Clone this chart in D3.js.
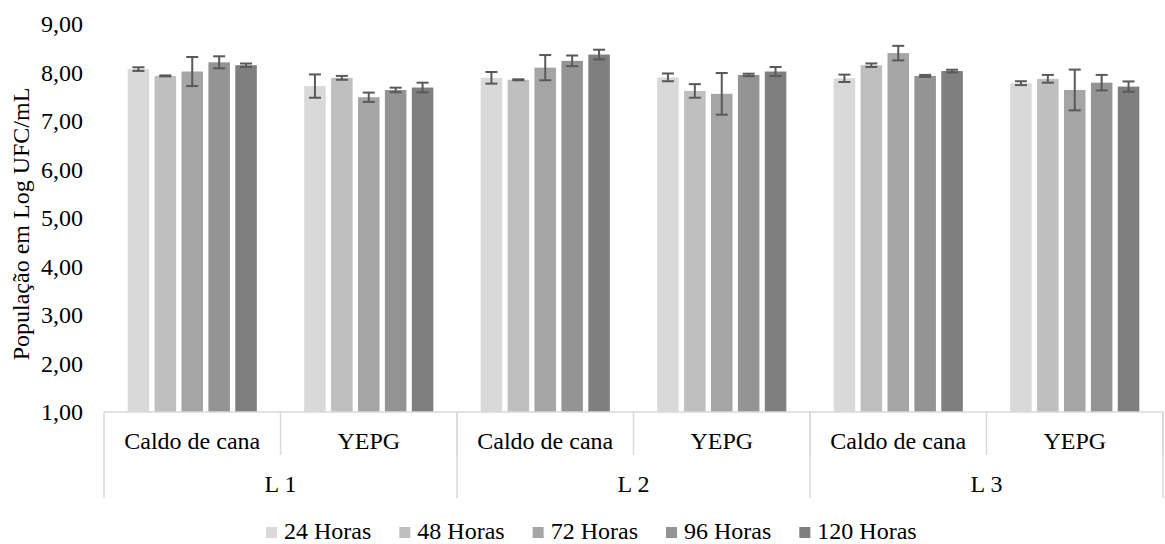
<!DOCTYPE html>
<html>
<head>
<meta charset="utf-8">
<script src="https://cdn.jsdelivr.net/npm/d3@7"></script>
<style>
  html, body { margin: 0; padding: 0; background: #fff; }
  svg { display: block; }
  text { font-family: "Liberation Serif", "Times New Roman", serif; fill: #000; }
</style>
</head>
<body>
<svg id="chart" width="1165" height="544"></svg>
<script>
// ---- data ----
const lineages = ["L 1", "L 2", "L 3"];
const media = ["Caldo de cana", "YEPG"];
const hours = ["24 Horas", "48 Horas", "72 Horas", "96 Horas", "120 Horas"];
const yTicks = [1, 2, 3, 4, 5, 6, 7, 8, 9];
// order of groups: L1 Caldo, L1 YEPG, L2 Caldo, L2 YEPG, L3 Caldo, L3 YEPG
const h24  = [8.07, 7.72, 7.89, 7.90, 7.88, 7.78];
const h48  = [7.93, 7.89, 7.85, 7.62, 8.15, 7.87];
const h72  = [8.02, 7.49, 8.10, 7.56, 8.40, 7.64];
const h96  = [8.21, 7.64, 8.24, 7.95, 7.93, 7.79];
const h120 = [8.15, 7.69, 8.37, 8.02, 8.03, 7.71];
const e24  = [0.037, 0.24, 0.12, 0.08, 0.076, 0.04];
const e48  = [0.01, 0.04, 0.01, 0.14, 0.037, 0.08];
const e72  = [0.30, 0.096, 0.26, 0.43, 0.15, 0.42];
const e96  = [0.124, 0.047, 0.11, 0.025, 0.02, 0.16];
const e120 = [0.035, 0.10, 0.10, 0.093, 0.027, 0.106];
const colors = ["#d9d9d9", "#bfbfbf", "#a5a5a5", "#949494", "#7f7f7f"];

const seriesVals = [h24, h48, h72, h96, h120];
const seriesErr = [e24, e48, e72, e96, e120];

const groups = [];
lineages.forEach(l => media.forEach(m => groups.push({ key: l + "|" + m, lin: l, med: m })));

const svg = d3.select("#chart");
const mLeft = 104, mRight = 1163, mTop = 24, mBottom = 412;
const fontSize = 24;
const serif = "'Liberation Serif', 'Times New Roman', serif";

const y = d3.scaleLinear().domain([1, 9]).range([mBottom, mTop]);
const x0 = d3.scaleBand().domain(groups.map(g => g.key)).range([mLeft, mRight]).padding(0);
const xL = d3.scaleBand().domain(lineages).range([mLeft, mRight]).padding(0);
const x1 = d3.scaleBand().domain(hours).range([0, x0.bandwidth()]).paddingInner(0.2).paddingOuter(0.88);
const color = d3.scaleOrdinal().domain(hours).range(colors);

// y axis (labels only)
const yAxis = d3.axisLeft(y).tickValues(yTicks).tickSize(0).tickPadding(0)
  .tickFormat(d => d3.format(".2f")(d).replace(".", ","));
const gy = svg.append("g").attr("transform", `translate(${mLeft - 21},0)`).call(yAxis);
gy.select(".domain").remove();
gy.attr("font-family", null);
gy.selectAll("text").style("font-size", fontSize + "px").style("font-family", serif).attr("fill", "#000");

// bars
const barData = [];
groups.forEach((g, gi) => hours.forEach((h, hi) => {
  barData.push({ g: g.key, h, v: seriesVals[hi][gi], e: seriesErr[hi][gi] });
}));
svg.append("g").selectAll("rect").data(barData).join("rect")
  .attr("x", d => x0(d.g) + x1(d.h))
  .attr("y", d => y(d.v))
  .attr("width", x1.bandwidth())
  .attr("height", d => y(1) - y(d.v))
  .attr("fill", d => color(d.h));

// error bars
const eg = svg.append("g").attr("stroke", "#595959").attr("stroke-width", 2).attr("fill", "none");
barData.forEach(d => {
  const cx = x0(d.g) + x1(d.h) + x1.bandwidth() / 2;
  const y1 = y(d.v + d.e), y2 = y(d.v - d.e);
  eg.append("line").attr("x1", cx).attr("x2", cx).attr("y1", y1).attr("y2", y2);
  eg.append("line").attr("x1", cx - 6).attr("x2", cx + 6).attr("y1", y1).attr("y2", y1);
  eg.append("line").attr("x1", cx - 6).attr("x2", cx + 6).attr("y1", y2).attr("y2", y2);
});

// category axis
const axisColor = "#d9d9d9";
const ag = svg.append("g");
ag.append("line").attr("x1", mLeft).attr("x2", mRight).attr("y1", mBottom).attr("y2", mBottom)
  .attr("stroke", axisColor).attr("stroke-width", 1.5);
groups.forEach(g => {
  const xx = x0(g.key) + x0.bandwidth();
  ag.append("line").attr("x1", xx).attr("x2", xx).attr("y1", mBottom).attr("y2", 455)
    .attr("stroke", axisColor).attr("stroke-width", 1.5);
});
[mLeft].concat(lineages.map(l => xL(l) + xL.bandwidth())).forEach(xx => {
  ag.append("line").attr("x1", xx).attr("x2", xx).attr("y1", mBottom).attr("y2", 498)
    .attr("stroke", axisColor).attr("stroke-width", 1.5);
});
groups.forEach(g => {
  ag.append("text").attr("x", x0(g.key) + x0.bandwidth() / 2).attr("y", 449)
    .attr("text-anchor", "middle").style("font-size", fontSize + "px").style("font-family", serif).text(g.med);
});
lineages.forEach(l => {
  ag.append("text").attr("x", xL(l) + xL.bandwidth() / 2).attr("y", 492)
    .attr("text-anchor", "middle").style("font-size", fontSize + "px").style("font-family", serif).text(l);
});

// y title
svg.append("text").attr("transform", `translate(29,${(mTop + mBottom) / 2 + 6}) rotate(-90)`)
  .attr("text-anchor", "middle").style("font-size", fontSize + "px").style("font-family", serif)
  .text("População em Log UFC/mL");

// legend
const lg = svg.append("g");
let lx = 266;
const gap = 28;
hours.forEach(h => {
  const it = lg.append("g").attr("transform", `translate(${lx},0)`);
  it.append("rect").attr("x", 0).attr("y", 527).attr("width", 11).attr("height", 11).attr("fill", color(h));
  const t = it.append("text").attr("x", 18).attr("y", 539)
    .style("font-size", fontSize + "px").style("font-family", serif).text(h);
  lx += 18 + t.node().getComputedTextLength() + gap;
});
</script>
</body>
</html>
